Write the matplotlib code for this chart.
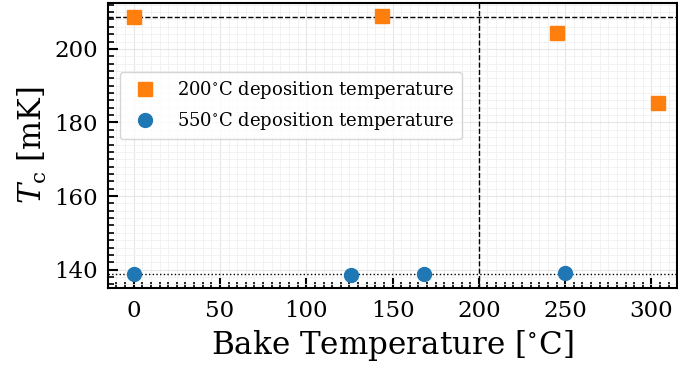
import numpy as np
import matplotlib
matplotlib.use("Agg")
import matplotlib.pyplot as plt
from matplotlib.ticker import MultipleLocator

plt.rcParams['font.family'] = 'DejaVu Serif'
plt.rcParams['mathtext.fontset'] = 'dejavuserif'

# 200 C deposition
bake_200 = [0, 144, 245, 304]
tc_200 = [208.7, 208.9, 204.4, 185.2]
# 550 C deposition
bake_550 = [0, 126, 168, 250]
tc_550 = [138.7, 138.5, 138.7, 139.2]

fig = plt.figure(figsize=(6.78, 3.65), dpi=100)
ax = fig.add_axes([0.159, 0.211, 0.84, 0.781])

ax.axhline(208.8, color='k', ls='--', lw=1, zorder=1)
ax.axhline(np.mean(tc_550), color='k', ls=':', lw=1, zorder=1)
ax.axvline(200, color='k', ls='--', lw=1, zorder=1)

ax.plot(bake_200, tc_200, 's', color='#ff7f0e', ms=10, label=r'200$^{\circ}$C deposition temperature', zorder=3)
ax.plot(bake_550, tc_550, 'o', color='#1f77b4', ms=10, label=r'550$^{\circ}$C deposition temperature', zorder=3)

ax.set_xlim(-15, 315)
ax.set_ylim(135, 212.5)
ax.xaxis.set_major_locator(MultipleLocator(50))
ax.xaxis.set_minor_locator(MultipleLocator(5))
ax.yaxis.set_major_locator(MultipleLocator(20))
ax.yaxis.set_minor_locator(MultipleLocator(2))
ax.grid(which='major', color='#e6e6e6', lw=0.8)
ax.grid(which='minor', color='#f0f0f0', lw=0.6)
ax.set_axisbelow(True)
ax.tick_params(which='major', direction='in', length=7, width=1.5, labelsize=16.5)
ax.tick_params(axis='x', which='major', pad=9)
ax.tick_params(axis='y', which='major', pad=7)
ax.tick_params(which='minor', direction='in', length=4, width=1.2)
for s in ax.spines.values():
    s.set_linewidth(1.5)

ax.set_xlabel(r'Bake Temperature [$^{\circ}$C]', fontsize=22.3, labelpad=4)
ax.set_ylabel(r'$T_{\rm c}$ [mK]', fontsize=22, labelpad=4)
ax.legend(loc='upper left', bbox_to_anchor=(0.005, 0.79), fontsize=13)

fig.savefig('out.png')
